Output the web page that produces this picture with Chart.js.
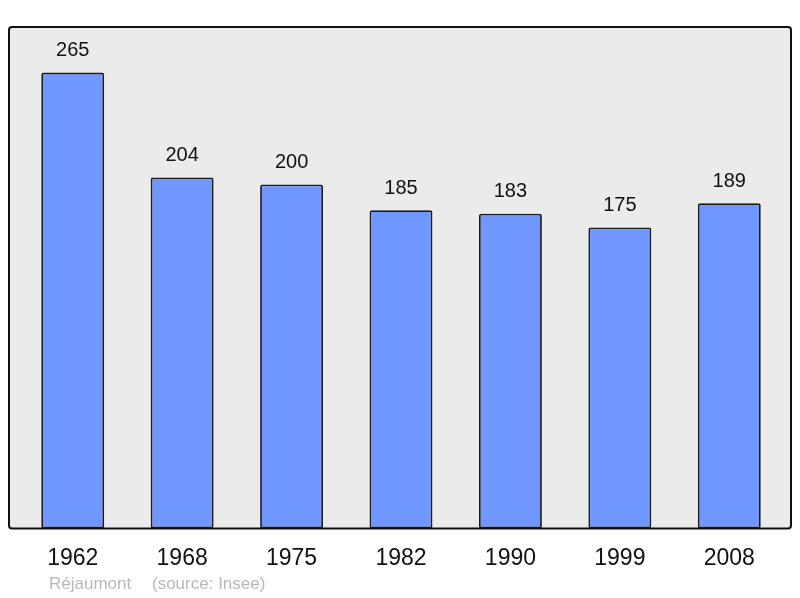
<!DOCTYPE html>
<html>
<head>
<meta charset="utf-8">
<script src="https://cdn.jsdelivr.net/npm/chart.js@4/dist/chart.umd.min.js"></script>
<style>
  body { margin: 0; background: #fff; }
  #wrap { width: 800px; height: 598px; }
</style>
</head>
<body>
<div id="wrap"><canvas id="pop_chart" width="800" height="598"></canvas></div>
<script>
const years = ["1962", "1968", "1975", "1982", "1990", "1999", "2008"];
const population = [265, 204, 200, 185, 183, 175, 189];
const commune = "Réjaumont";
const source = "(source: Insee)";

const pop_ctx = document.getElementById("pop_chart");

// grey frame behind the bars, border drawn on top
const frame = {
  id: "frame",
  beforeDatasetsDraw(chart) {
    const a = chart.chartArea;
    const c = chart.ctx;
    c.save();
    c.fillStyle = "#ebebeb";
    c.beginPath();
    c.roundRect(a.left - 9, a.top, a.right - a.left + 16, a.bottom - a.top, 3);
    c.fill();
    c.restore();
  },
  afterDatasetsDraw(chart) {
    const a = chart.chartArea;
    const c = chart.ctx;
    c.save();
    c.strokeStyle = "#111";
    c.lineWidth = 2;
    c.beginPath();
    c.roundRect(a.left - 9, a.top, a.right - a.left + 16, a.bottom - a.top, 3);
    c.stroke();

    // value labels above each bar
    const meta = chart.getDatasetMeta(0);
    c.fillStyle = "#111";
    c.font = "20px 'Liberation Sans', Arial, sans-serif";
    c.textAlign = "center";
    c.textBaseline = "middle";
    meta.data.forEach((bar, i) => {
      c.fillText(population[i], bar.x, bar.y - 22);
    });

    // footer
    c.fillStyle = "#b8b8b8";
    c.font = "17px 'Liberation Sans', Arial, sans-serif";
    c.textAlign = "left";
    c.fillText(commune, 49, 584);
    c.fillText(source, 152, 584);
    c.restore();
  },
};

const pop_chart = new Chart(pop_ctx, {
  type: "bar",
  data: {
    labels: years,
    datasets: [
      {
        data: population,
        backgroundColor: "#7096ff",
        borderColor: "#1a1a1a",
        borderWidth: 1.8,
        borderRadius: 2,
        borderSkipped: false,
        barPercentage: 0.575,
        categoryPercentage: 1,
      },
    ],
  },
  options: {
    responsive: false,
    animation: false,
    layout: {
      padding: { left: 18, right: 16, top: 27, bottom: 10 },
    },
    plugins: {
      legend: { display: false },
      tooltip: { enabled: false },
    },
    scales: {
      x: {
        grid: { display: false, drawTicks: false },
        border: { display: false },
        ticks: {
          color: "#111",
          padding: 16,
          font: { family: "'Liberation Sans', Arial, sans-serif", size: 23 },
        },
      },
      y: {
        display: false,
        min: 0,
        max: 291.5,
      },
    },
  },
  plugins: [frame],
});
</script>
</body>
</html>
